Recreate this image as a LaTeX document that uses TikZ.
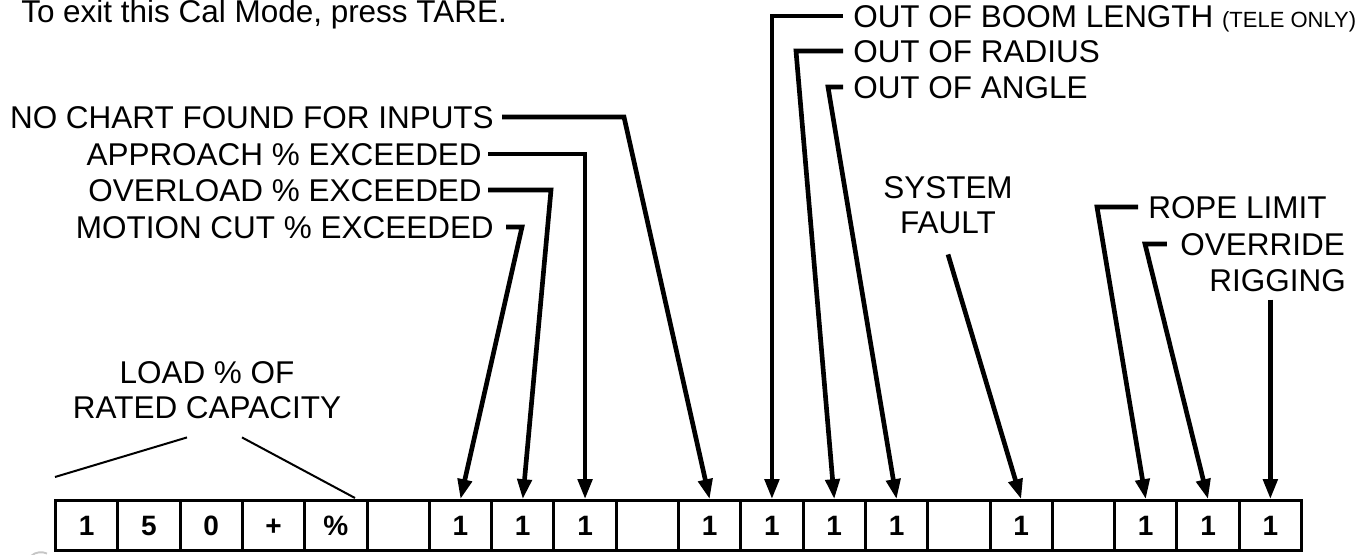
\documentclass[tikz,border=0pt]{standalone}
\usepackage{fontspec}
\setmainfont{Liberation Sans}
\usetikzlibrary{arrows.meta}
\begin{document}
\begin{tikzpicture}[x=0.75pt,y=-0.75pt,
  lbl/.style={font=\fontsize{23.6pt}{26.3pt}\selectfont, inner sep=0pt,
    text height=16.9pt, text depth=0pt},
  lbltwo/.style={font=\fontsize{23.6pt}{26.3pt}\selectfont, inner sep=0pt, align=center},
  cell/.style={draw, line width=2.25pt, minimum width=46.725pt, minimum height=37.5pt,
    inner sep=0pt, font=\fontsize{21pt}{24pt}\selectfont\bfseries,
    text height=15pt, text depth=0pt},
  pointer/.style={line width=3.5pt, line join=miter,
    -{Triangle[length=15pt,width=10.5pt]}},
  thinline/.style={line width=1.5pt}
]
\useasboundingbox (0,0) rectangle (1363,555);

% display row of twenty character cells
\foreach \v [count=\i from 0] in {1,5,0,+,\%,{},1,1,1,{},1,1,1,1,{},1,{},1,1,1}
  \node[cell] (c\i) at ({55.5+62.3*(\i+0.5)},525.7) {\v};

% instruction line at the top
\node[anchor=base west, inner sep=0pt, font=\fontsize{23.6pt}{26pt}\selectfont]
  (note) at (21,23) {To exit this Cal Mode, press TARE.};

% left-hand labels
\node[lbl, anchor=east] (nochart)  at (494,117) {NO CHART FOUND FOR INPUTS};
\node[lbl, anchor=east] (approach) at (482,154) {APPROACH \% EXCEEDED};
\node[lbl, anchor=east] (overload) at (482,190) {OVERLOAD \% EXCEEDED};
\node[lbl, anchor=east] (motion)   at (494,227) {MOTION CUT \% EXCEEDED};

\coordinate (bnochart)  at (624,117);
\coordinate (bapproach) at (c8.north |- approach.east);
\coordinate (boverload) at (551,190);
\coordinate (bmotion)   at (522,227);

\draw[pointer] ([xshift=6pt]nochart.east) -- (bnochart) -- (c10.north);
\draw[pointer] ([xshift=4.5pt]approach.east) -- (bapproach) -- (c8.north);
\draw[pointer] ([xshift=4.5pt]overload.east) -- (boverload) -- (c7.north);
\draw[pointer] ([xshift=9pt]motion.east) -- (bmotion) -- (c6.north);

% upper right labels
\node[lbl, anchor=west] (boom) at (853,16)
  {OUT OF BOOM LENGTH {\fontsize{16.5pt}{18pt}\selectfont(TELE ONLY)}};
\node[lbl, anchor=west] (radius) at (853,51) {OUT OF RADIUS};
\node[lbl, anchor=west] (angle)  at (853,87) {OUT OF ANGLE};

\coordinate (bboom)   at (c11.north |- boom.west);
\coordinate (bradius) at (796,51);
\coordinate (bangle)  at (828,87);

\draw[pointer] ([xshift=-7.5pt]boom.west) -- (bboom) -- (c11.north);
\draw[pointer] ([xshift=-7.5pt]radius.west) -- (bradius) -- (c12.north);
\draw[pointer] ([xshift=-7.5pt]angle.west) -- (bangle) -- (c13.north);

% system fault
\node[lbltwo] (system) at (948,205.5) {SYSTEM\\FAULT};
\draw[pointer] ([yshift=-15pt]system.south) -- (c15.north);

% rope limit override and rigging
\node[lbl, anchor=west] (rope)     at (1148,207) {ROPE LIMIT};
\node[lbl, anchor=east] (override) at (1345,244) {OVERRIDE};
\node[lbl, anchor=east] (rigging)  at (1346,280) {RIGGING};

\coordinate (brope)     at (1097,207);
\coordinate (boverride) at (1145,244);

\draw[pointer] ([xshift=-7.5pt]rope.west) -- (brope) -- (c17.north);
\draw[pointer] ([xshift=-10pt]override.west) -- (boverride) -- (c18.north);
\draw[pointer] ([yshift=-6pt]c19.north |- rigging.south) -- (c19.north);

% load percentage label
\node[lbltwo] (load) at (207,390.5) {LOAD \% OF\\RATED CAPACITY};
\coordinate (loadleft)  at (55,477);
\coordinate (loadright) at (355,498);
\draw[thinline] ([shift={(-20,18)}]load.south) -- (loadleft);
\draw[thinline] ([shift={(35,18)}]load.south) -- (loadright);

% small grey mark at the lower left corner
\draw[gray!45, line width=1.4pt] (31,556) .. controls (36,551.5) and (42,551.5) .. (47,553.5);
\end{tikzpicture}
\end{document}
